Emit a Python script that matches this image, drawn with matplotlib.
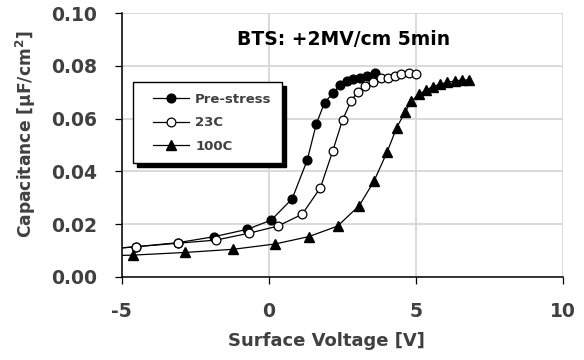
import matplotlib.pyplot as plt
from matplotlib.legend_handler import HandlerLine2D

# surface voltage [V] and capacitance [uF/cm^2]
v_pre = [-6.0, -4.50, -3.10, -1.86, -0.73, 0.08, 0.79, 1.30, 1.61, 1.89, 2.17, 2.42, 2.65, 2.87, 3.10, 3.32, 3.60]
c_pre = [0.0100, 0.0114, 0.0129, 0.0152, 0.0180, 0.0215, 0.0296, 0.0442, 0.0580, 0.0661, 0.0696, 0.0728,
         0.0743, 0.0749, 0.0756, 0.0762, 0.0772]

v_23 = [-6.0, -4.50, -3.10, -1.80, -0.68, 0.30, 1.13, 1.75, 2.17, 2.50, 2.79, 3.02, 3.27, 3.52, 3.80, 4.05,
        4.28, 4.50, 4.75, 4.99]
c_23 = [0.0100, 0.0114, 0.0127, 0.0139, 0.0165, 0.0192, 0.0237, 0.0338, 0.0478, 0.0595, 0.0667, 0.0703,
        0.0724, 0.0738, 0.0753, 0.0753, 0.0762, 0.0768, 0.0772, 0.0770]

v_100 = [-6.0, -4.62, -2.85, -1.22, 0.20, 1.35, 2.33, 3.07, 3.57, 4.02, 4.34, 4.62, 4.84, 5.09, 5.35, 5.57,
         5.80, 6.05, 6.31, 6.57, 6.81]
c_100 = [0.0078, 0.0082, 0.0092, 0.0104, 0.0124, 0.0152, 0.0192, 0.0270, 0.0363, 0.0475, 0.0566, 0.0624,
         0.0667, 0.0692, 0.0709, 0.0722, 0.0730, 0.0738, 0.0743, 0.0747, 0.0747]

x_ticks = [-5, 0, 5, 10]
y_ticks = [0.00, 0.02, 0.04, 0.06, 0.08, 0.10]

txt = '#404040'
plt.rcParams['font.family'] = 'DejaVu Sans'
plt.rcParams['font.weight'] = 'bold'

fig = plt.figure(figsize=(5.84, 3.6), dpi=100)
ax = fig.add_axes([0.2084, 0.2314, 0.7562, 0.7316])

ax.plot(v_pre, c_pre, color='black', lw=0.9, marker='o', ms=6.3, mfc='black', mec='black',
        label='Pre-stress')
ax.plot(v_23, c_23, color='black', lw=0.9, marker='o', ms=6.3, mfc='white', mec='black', mew=0.9,
        label='23C')
ax.plot(v_100, c_100, color='black', lw=0.9, marker='^', ms=6.6, mfc='black', mec='black',
        label='100C')

ax.set_xlim(-5, 10)
ax.set_ylim(0, 0.10)
ax.set_xticks(x_ticks)
ax.set_yticks(y_ticks)
ax.set_xticklabels([str(t) for t in x_ticks])
ax.set_yticklabels(['%.2f' % t for t in y_ticks])
ax.tick_params(direction='out', length=5, width=0.9, colors='black', labelcolor=txt, labelsize=13.5)
ax.tick_params(axis='x', pad=13)
ax.tick_params(axis='y', pad=13)

ax.grid(True, color='#d9d9d9', lw=1.4)
ax.set_axisbelow(True)
ax.spines['top'].set_visible(False)
ax.spines['right'].set_visible(False)
ax.spines['left'].set_linewidth(1.1)
ax.spines['bottom'].set_linewidth(1.1)

ax.set_xlabel('Surface Voltage [V]', fontsize=13, color=txt, fontweight='bold')
ax.xaxis.set_label_coords(0.463, -0.21)
ax.set_ylabel(r'Capacitance [$\mathbf{\mu}$F/cm$^\mathbf{2}$]', fontsize=12.3, color=txt, fontweight='bold')
ax.yaxis.set_label_coords(-0.19, 0.542)

ax.text(2.52, 0.0899, 'BTS: +2MV/cm 5min', ha='center', va='center', fontsize=13.5, color='black')

leg = ax.legend(loc='upper left', bbox_to_anchor=(0.228, 0.772), bbox_transform=fig.transFigure,
                fontsize=9.5, handlelength=3.45, handletextpad=0.45, labelspacing=0.8, borderpad=0.8,
                borderaxespad=0, fancybox=False, framealpha=1, edgecolor='black',
                handler_map={plt.Line2D: HandlerLine2D(xpad=0.7)},
                shadow={'color': 'black', 'alpha': 1, 'ox': 2.5, 'oy': -2.5})
leg.get_frame().set_linewidth(1.0)
for t in leg.get_texts():
    t.set_color(txt)

plt.savefig('out.png', dpi=100)
